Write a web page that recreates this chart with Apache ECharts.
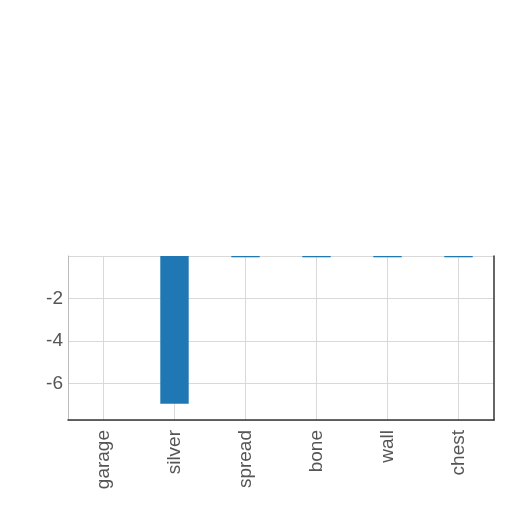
<!DOCTYPE html>
<html>
<head>
<meta charset="utf-8">
<script src="https://cdn.jsdelivr.net/npm/echarts@6/dist/echarts.min.js"></script>
<style>html,body{margin:0;padding:0;background:#fff}#c{width:512px;height:512px}</style>
</head>
<body>
<div id="c"></div>
<script>
const categories = ['garage', 'silver', 'spread', 'bone', 'wall', 'chest'];
const values = [0, -6.95, -0.06, -0.06, -0.06, -0.06];
const yMin = -7.72;
const yMax = 0;

const chart = echarts.init(document.getElementById('c'), null, {renderer: 'canvas'});
chart.setOption({
  animation: false,
  backgroundColor: '#fff',
  textStyle: {fontFamily: 'Liberation Sans'},
  grid: {left: 68, right: 18, top: 256, bottom: 92, containLabel: false},
  xAxis: {
    type: 'category',
    data: categories,
    position: 'bottom',
    axisLine: {show: true, onZero: false, lineStyle: {color: '#333', width: 1.5}},
    axisTick: {show: false, alignWithLabel: true},
    splitLine: {show: true, alignWithLabel: true, lineStyle: {color: '#d9d9d9', width: 1}},
    axisLabel: {rotate: 90, fontSize: 19, color: '#555', margin: 10, fontFamily: 'Liberation Sans'}
  },
  yAxis: [{
    type: 'value',
    min: yMin,
    max: yMax,
    axisLine: {show: true, lineStyle: {color: '#bbb', width: 1}},
    axisTick: {show: false},
    splitLine: {show: true, lineStyle: {color: '#d9d9d9', width: 1}},
    axisLabel: {fontSize: 19, color: '#555', margin: 5, showMinLabel: false, showMaxLabel: false, fontFamily: 'Liberation Sans'}
  }, {
    type: 'value',
    position: 'right',
    min: yMin,
    max: yMax,
    axisLine: {show: true, lineStyle: {color: '#333', width: 1.5}},
    axisTick: {show: false},
    splitLine: {show: false},
    axisLabel: {show: false}
  }],
  series: [{
    type: 'bar',
    data: values,
    barWidth: '40%',
    itemStyle: {color: '#1f77b4'}
  }]
});
</script>
</body>
</html>
